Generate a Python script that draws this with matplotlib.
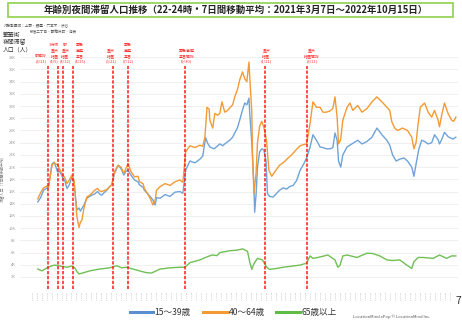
import numpy as np
import matplotlib
matplotlib.use('Agg')
import matplotlib.pyplot as plt
from matplotlib.patches import Rectangle
from matplotlib.lines import Line2D
from matplotlib.transforms import offset_copy

plt.rcParams['font.family'] = ['Noto Sans CJK JP', 'DejaVu Sans']

# ---------------- data (values in thousands of people) ----------------
start_date = np.datetime64('2021-03-07')
end_date = np.datetime64('2022-10-15')

# 15-39
young_days = [0, 4, 8, 13, 15, 20, 23, 25, 28, 31, 35, 38, 41, 44, 48, 51, 52, 55, 58, 60, 62, 65, 69, 73, 76, 80, 84, 87, 90, 94, 97, 101, 104, 108, 113, 117, 121, 124, 127, 131, 136, 141, 143, 148, 150, 155, 158, 162, 165, 167, 172, 179, 186, 193, 200, 204, 208, 214, 221, 228, 232, 236, 239, 242, 248, 252, 256, 260, 264, 270, 274, 277, 281, 284, 288, 291, 294, 297, 298, 301, 304, 305, 307, 309, 312, 315, 318, 321, 323, 326, 331, 335, 340, 345, 350, 354, 359, 364, 369, 374, 378, 383, 387, 392, 397, 401, 406, 411, 415, 418, 421, 423, 426, 429, 435, 439, 443, 450, 456, 463, 470, 477, 484, 491, 495, 499, 504, 509, 515, 520, 526, 529, 532, 536, 540, 544, 549, 554, 558, 563, 565, 568, 572, 577, 580, 584, 588]
young_vals = [14.3, 15.0, 16.2, 16.6, 16.8, 20.5, 20.8, 20.2, 19.2, 19.3, 18.3, 17.8, 16.5, 17.0, 18.4, 17.5, 16.2, 13.0, 13.3, 12.8, 13.2, 13.8, 14.9, 15.2, 15.4, 15.6, 16.0, 15.6, 15.4, 15.9, 16.2, 16.8, 17.1, 19.0, 20.3, 19.8, 18.7, 19.3, 19.5, 18.7, 17.9, 17.6, 17.1, 16.7, 16.2, 15.6, 15.2, 14.6, 13.8, 15.0, 14.9, 15.5, 15.2, 15.9, 16.0, 15.7, 19.5, 21.0, 20.7, 21.3, 21.8, 24.8, 23.9, 23.3, 23.0, 23.4, 23.8, 23.5, 23.9, 24.4, 24.9, 25.6, 26.5, 27.7, 29.4, 30.5, 30.2, 31.3, 29.0, 24.0, 17.0, 12.6, 15.5, 20.0, 22.5, 23.0, 22.8, 21.0, 15.7, 15.2, 15.1, 15.6, 16.2, 16.6, 16.4, 16.8, 17.0, 17.8, 19.5, 20.5, 21.5, 23.3, 25.3, 24.4, 23.3, 23.2, 23.0, 23.0, 23.2, 25.6, 24.4, 21.0, 20.0, 22.0, 23.3, 23.6, 23.9, 24.4, 23.8, 24.2, 24.9, 26.4, 25.3, 24.4, 23.6, 22.0, 21.0, 21.3, 21.5, 21.0, 20.0, 18.5, 20.5, 23.0, 24.4, 24.2, 23.8, 24.0, 25.3, 24.5, 23.8, 24.5, 25.7, 25.0, 24.8, 24.6, 24.9]

# 40-64
middle_days = [0, 4, 8, 13, 15, 20, 23, 25, 28, 31, 35, 38, 41, 44, 48, 51, 52, 55, 58, 60, 62, 65, 69, 73, 76, 80, 84, 87, 90, 94, 97, 101, 104, 108, 113, 117, 121, 124, 127, 131, 136, 141, 143, 148, 150, 155, 158, 162, 165, 167, 172, 179, 186, 193, 200, 204, 208, 214, 221, 228, 232, 235, 238, 241, 242, 246, 249, 253, 256, 259, 263, 267, 270, 274, 277, 281, 284, 288, 291, 294, 297, 298, 301, 302, 304, 307, 309, 312, 315, 318, 321, 322, 325, 329, 335, 340, 346, 352, 357, 363, 369, 374, 378, 383, 387, 392, 397, 401, 406, 411, 415, 418, 421, 423, 426, 429, 435, 439, 443, 450, 456, 463, 470, 477, 484, 491, 495, 498, 502, 506, 513, 520, 526, 529, 532, 535, 538, 544, 549, 554, 558, 563, 565, 568, 572, 577, 582, 585, 588]
middle_vals = [14.8, 15.8, 16.6, 16.9, 16.6, 20.3, 20.8, 20.5, 20.4, 19.6, 18.7, 18.3, 17.3, 17.8, 18.7, 17.8, 16.5, 11.9, 10.1, 11.0, 11.3, 13.3, 15.1, 15.4, 15.7, 16.2, 16.5, 16.1, 16.0, 16.2, 16.3, 16.8, 17.1, 19.3, 20.3, 20.0, 19.0, 19.8, 20.6, 19.3, 18.4, 18.5, 17.6, 17.3, 16.5, 15.5, 14.9, 13.8, 14.5, 16.2, 16.8, 17.3, 17.0, 17.6, 17.9, 17.5, 22.5, 23.5, 23.2, 23.6, 23.4, 24.9, 29.8, 29.5, 27.7, 26.4, 28.8, 28.5, 28.8, 30.7, 29.0, 29.3, 29.7, 30.2, 31.5, 32.8, 34.3, 35.6, 34.5, 34.0, 37.2, 35.0, 29.0, 22.0, 15.7, 19.0, 24.0, 26.7, 27.5, 26.5, 24.8, 24.0, 19.5, 18.5, 19.5, 20.3, 20.8, 21.5, 22.0, 22.8, 23.5, 23.7, 23.8, 27.2, 30.7, 29.8, 29.8, 29.0, 29.0, 29.2, 29.6, 31.5, 28.2, 23.8, 24.5, 27.7, 29.8, 30.5, 29.3, 30.1, 29.0, 29.6, 30.7, 31.5, 30.7, 29.8, 29.3, 27.4, 26.4, 26.0, 26.4, 26.0, 24.9, 23.0, 24.0, 27.2, 29.8, 30.5, 29.0, 28.2, 29.3, 27.7, 26.6, 28.5, 30.5, 28.8, 27.7, 27.5, 28.2]

# 65+
senior_days = [0, 6, 13, 20, 24, 31, 41, 48, 52, 55, 58, 63, 73, 87, 101, 111, 118, 125, 134, 143, 153, 160, 172, 186, 200, 207, 214, 228, 238, 245, 252, 256, 263, 270, 280, 288, 295, 298, 301, 304, 309, 316, 322, 326, 336, 345, 359, 369, 373, 378, 383, 387, 394, 401, 408, 418, 422, 425, 429, 435, 449, 463, 471, 481, 491, 499, 509, 519, 526, 529, 535, 542, 556, 565, 575, 582, 588]
senior_vals = [3.3, 3.0, 3.5, 3.85, 3.95, 3.8, 3.6, 3.8, 3.5, 2.9, 2.5, 2.65, 3.0, 3.3, 3.5, 3.85, 3.5, 3.6, 3.3, 3.0, 2.7, 2.65, 3.3, 3.5, 3.6, 3.6, 4.35, 4.8, 5.3, 5.6, 5.5, 6.0, 6.15, 6.3, 6.4, 6.6, 6.2, 4.5, 3.25, 4.2, 5.05, 4.8, 3.6, 3.25, 3.4, 3.6, 3.8, 3.95, 4.1, 4.25, 5.45, 5.05, 5.2, 5.4, 5.6, 4.8, 3.6, 3.9, 5.45, 5.6, 5.2, 5.9, 5.85, 5.45, 4.8, 4.7, 4.8, 3.95, 3.4, 4.5, 5.2, 5.2, 5.05, 5.6, 5.05, 5.45, 5.45]

event_dates = ['2021-03-21', '2021-04-05', '2021-04-12', '2021-04-25', '2021-06-21',
               '2021-07-12', '2021-09-30', '2022-01-21', '2022-03-21']
event_labels = ['都解除\n(3/21)', '3府県\n重点\n措置\n(4/5)', '都\n重点\n措置\n(4/12)',
                '緊急\n事態\n宣言\n(4/25)', '重点\n措置\n(6/21)', '緊急\n事態\n宣言\n(7/12)',
                '緊急事態\n宣言解除\n(9/30)', '重点\n措置\n(1/21)', '重点\n措置解除\n(3/21)']

series_names = ['15～39歳', '40～64歳', '65歳以上']
series_colors = ['#6fa3d8', '#f39a35', '#70bf55']
legend_colors = ['#5b8fd0', '#f39a35', '#5fba46']
y_ticks = list(range(2, 40, 2))

# ---------------- figure ----------------
W, H = 462, 320
fig = plt.figure(figsize=(W / 100, H / 100), dpi=100)
fig.patch.set_facecolor('white')


def fx(px):
    return px / W


def fy(py):
    return 1 - py / H


y0_px, ytop_px = 289.2, 54.2
ymax = 38.5
ax = fig.add_axes([fx(20), fy(y0_px), fx(458) - fx(20), fy(ytop_px) - fy(y0_px)])


def to_dates(days):
    return start_date + np.array(days).astype('timedelta64[D]')


for days, vals, c in [(senior_days, senior_vals, series_colors[2]),
                      (young_days, young_vals, series_colors[0]),
                      (middle_days, middle_vals, series_colors[1])]:
    ax.plot(to_dates(days), vals, color=c, lw=1.0, solid_joinstyle='round', zorder=3)

ax.set_ylim(0, ymax)
ax.set_xlim(start_date - np.timedelta64(25, 'D'), start_date + np.timedelta64(591, 'D'))
ax.set_yticks(y_ticks)
ax.set_yticklabels([f'{v}K' for v in y_ticks])
ax.tick_params(axis='y', length=0, labelsize=2.8, labelcolor='#999999', pad=3)
ax.grid(axis='y', color='#eeeeee', lw=0.6)
ax.set_axisbelow(True)
for s in ax.spines.values():
    s.set_visible(False)

# weekly tiny x tick labels
xt = np.arange(start_date - np.timedelta64(7, 'D'), end_date + np.timedelta64(1, 'D'), np.timedelta64(7, 'D'))
ax.set_xticks(xt)
ax.set_xticklabels([str(d)[2:].replace('-', '/') for d in xt], rotation=90, fontsize=1.6, color='#aaaaaa')
ax.tick_params(axis='x', length=0, pad=1)

# event lines & labels (labels nudged sideways in pixels where they would collide)
label_nudge_px = [-6.5, -4.0, 2.0, 7.5, -2.0, 0.0, 1.5, 1.0, 4.5]
ev = np.array(event_dates, dtype='datetime64[D]')
ax.vlines(ev, 0, 36.6, colors='#ff1a1a', linestyles=(0, (2.2, 1.0)), lw=1.1, zorder=4)
for d, lab, nx in zip(ev, event_labels, label_nudge_px):
    tr = offset_copy(ax.transData, fig=fig, x=nx * 72 / 100, y=0, units='points')
    ax.text(d, 37.0, lab, ha='center', va='bottom', color='#ff3030', fontsize=2.9,
            linespacing=1.45, clip_on=False, zorder=5, transform=tr)

ax.set_ylabel('滞留人口（7日間移動平均）', fontsize=2.8, color='#777777', labelpad=1)
ax.yaxis.set_label_coords(-(20 - 5) / (458 - 20), (y0_px - 178) / (y0_px - ytop_px))

# title box
fig.add_artist(Rectangle((fx(8), fy(17.3)), fx(453) - fx(8), fy(2.7) - fy(17.3),
                         transform=fig.transFigure, facecolor='white', edgecolor='#8fd14f', lw=1.2))
fig.text(fx(236), fy(10), '年齢別夜間滞留人口推移（22-24時・7日間移動平均：2021年3月7日～2022年10月15日）',
         ha='center', va='center', fontsize=6.8, fontweight='bold', color='#222222')

# top-left notes
fig.text(fx(4), fy(26.5), '対象繁華街：上野・銀座・六本木・渋谷', fontsize=2.6, color='#555555', va='center')
fig.text(fx(30), fy(32), '新宿二丁目・歌舞伎町・池袋', fontsize=2.6, color='#555555', va='center')
fig.text(fx(3), fy(42.5), '繁華街\n夜間滞留\n人口（人）', fontsize=4.2, color='#333333', va='center',
         linespacing=1.25)

# legend
leg_items = [(130, 153, 154), (203, 228, 229), (276, 300, 302)]
for (x1, x2, xt_), name, c in zip(leg_items, series_names, legend_colors):
    fig.add_artist(Line2D([fx(x1), fx(x2)], [fy(312), fy(312)], transform=fig.transFigure,
                          color=c, lw=2.2))
    fig.text(fx(xt_), fy(312), name, fontsize=6.2, color='#333333', va='center', ha='left')

fig.text(fx(353), fy(316.5), 'LocationMind xPop © LocationMind Inc.', fontsize=3.0, color='#555555',
         va='center', ha='left')
fig.text(fx(458), fy(301), '7', fontsize=7.5, color='#333333', va='center', ha='center')

fig.savefig('out.png', dpi=100, facecolor='white')
